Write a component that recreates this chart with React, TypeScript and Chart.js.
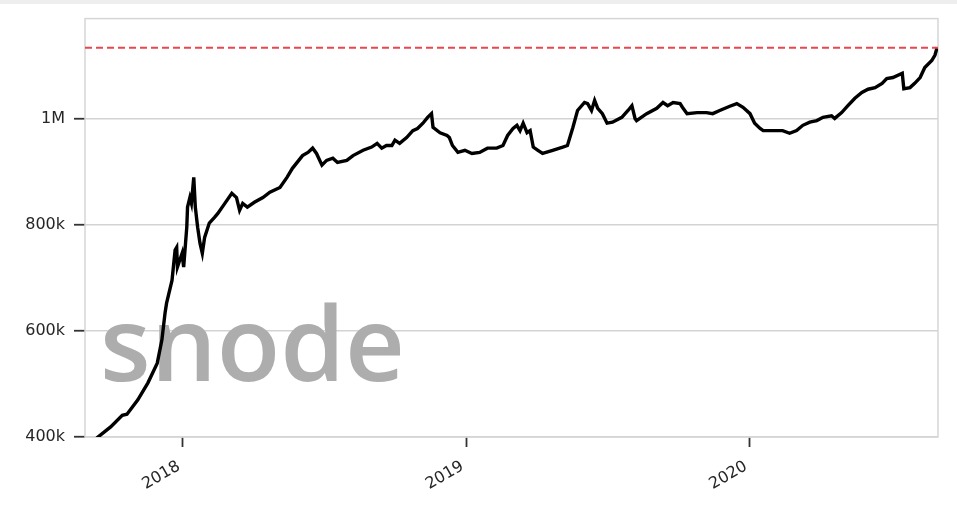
import React, { useEffect, useRef } from "react";
import { Chart, registerables } from "chart.js";

Chart.register(...registerables);

// ---- data ----
const dates: string[] = [
  "2017-09-12","2017-09-30","2017-10-15","2017-10-21","2017-11-04","2017-11-17","2017-11-29","2017-12-05",
  "2017-12-09","2017-12-11","2017-12-18","2017-12-22","2017-12-24","2017-12-25","2017-12-31","2018-01-02",
  "2018-01-06","2018-01-07","2018-01-10","2018-01-12","2018-01-15","2018-01-17","2018-01-20","2018-01-23",
  "2018-01-26","2018-01-29","2018-02-04","2018-02-11","2018-02-15","2018-02-24","2018-03-05","2018-03-11",
  "2018-03-15","2018-03-19","2018-03-25","2018-04-03","2018-04-14","2018-04-23","2018-05-06","2018-05-15",
  "2018-05-22","2018-06-04","2018-06-11","2018-06-17","2018-06-22","2018-06-29","2018-07-05","2018-07-13",
  "2018-07-19","2018-07-31","2018-08-08","2018-08-21","2018-09-01","2018-09-08","2018-09-14","2018-09-20",
  "2018-09-27","2018-10-01","2018-10-07","2018-10-16","2018-10-24","2018-10-30","2018-11-06","2018-11-12",
  "2018-11-17","2018-11-19","2018-11-28","2018-12-07","2018-12-10","2018-12-14","2018-12-21","2018-12-30",
  "2019-01-08","2019-01-18","2019-01-28","2019-02-09","2019-02-17","2019-02-23","2019-03-02","2019-03-07",
  "2019-03-11","2019-03-15","2019-03-20","2019-03-24","2019-03-28","2019-04-03","2019-04-09","2019-04-22",
  "2019-05-05","2019-05-11","2019-05-18","2019-05-24","2019-06-02","2019-06-06","2019-06-11","2019-06-15",
  "2019-06-19","2019-06-25","2019-07-01","2019-07-08","2019-07-20","2019-07-28","2019-08-02","2019-08-06",
  "2019-08-08","2019-08-21","2019-09-03","2019-09-11","2019-09-17","2019-09-24","2019-10-03","2019-10-06",
  "2019-10-12","2019-10-25","2019-11-06","2019-11-14","2019-11-23","2019-12-06","2019-12-15","2019-12-23",
  "2020-01-01","2020-01-07","2020-01-14","2020-01-18","2020-01-31","2020-02-12","2020-02-21","2020-03-01",
  "2020-03-09","2020-03-18","2020-03-27","2020-04-04","2020-04-15","2020-04-19","2020-04-28","2020-05-06",
  "2020-05-15","2020-05-24","2020-06-01","2020-06-10","2020-06-19","2020-06-25","2020-07-03","2020-07-15",
  "2020-07-17","2020-07-25","2020-07-31","2020-08-07","2020-08-13","2020-08-22","2020-08-26","2020-08-29",
];

// values in thousands
const valuesK: number[] = [
  398,419,441,443,470,502,539,583,
  633,652,695,752,757,720,746,720,
  795,833,851,840,889,833,795,765,
  746,776,803,814,821,840,859,851,
  827,840,833,842,851,861,870,889,
  906,930,936,944,934,912,921,925,
  917,921,930,940,946,953,944,949,
  949,959,953,964,977,981,991,1002,
  1009,983,973,968,964,949,936,940,
  934,936,944,944,949,968,981,987,
  977,991,973,977,946,940,934,940,
  946,949,983,1015,1030,1028,1015,1034,
  1019,1009,991,993,1002,1015,1024,1000,
  996,1009,1019,1030,1024,1030,1028,1021,
  1009,1011,1011,1009,1015,1023,1028,1021,
  1009,991,981,977,977,977,972,977,
  987,993,996,1002,1005,1000,1011,1024,
  1038,1049,1055,1058,1066,1075,1077,1085,
  1056,1058,1066,1077,1096,1109,1119,1134,
];

const athValue = 1133000;
const yTickValues: number[] = [400000, 600000, 800000, 1000000];
const yRange: number[] = [400000, 1188000];
const xTickDates: string[] = ["2018-01-01", "2019-01-01", "2020-01-01"];
const xTickLabels: string[] = ["2018", "2019", "2020"];
const xRange: string[] = ["2017-08-28", "2020-08-30"];
const watermarkText = "snode";

const ts = (d: string) => Date.parse(d + "T00:00:00Z");

export default function App() {
  const ref = useRef<HTMLCanvasElement | null>(null);

  useEffect(() => {
    document.body.style.margin = "0";
    const canvas = ref.current;
    if (!canvas) return;

    const linePoints = dates.map((d, i) => ({ x: ts(d), y: valuesK[i] * 1000 }));
    const athPoints = [
      { x: ts(xRange[0]), y: athValue },
      { x: ts(xRange[1]), y: athValue },
    ];

    const framePlugin = {
      id: "frameAndWatermark",
      beforeDatasetsDraw(chart: any) {
        const { ctx, chartArea } = chart;
        ctx.save();
        ctx.strokeStyle = "#d6d6d6";
        ctx.lineWidth = 1.5;
        ctx.strokeRect(chartArea.left, chartArea.top, chartArea.right - chartArea.left, chartArea.bottom - chartArea.top);
        ctx.font = '600 104px "Open Sans"';
        ctx.fillStyle = "#adadad";
        ctx.textBaseline = "alphabetic";
        ctx.textAlign = "left";
        ctx.fillText(watermarkText, chartArea.left + 15, chartArea.bottom - 56);
        ctx.restore();
      },
    };

    const tickFont = { family: "'DejaVu Sans', sans-serif", size: 16 };

    const chart = new Chart(canvas, {
      type: "line",
      data: {
        datasets: [
          {
            data: athPoints,
            borderColor: "#e9474d",
            borderWidth: 2,
            borderDash: [7, 4],
            pointRadius: 0,
            fill: false,
          },
          {
            data: linePoints,
            borderColor: "#000000",
            borderWidth: 3.4,
            pointRadius: 0,
            tension: 0,
            fill: false,
          },
        ],
      },
      options: {
        animation: false,
        responsive: false,
        layout: { padding: { top: 18, right: 19, left: 0, bottom: 0 } },
        plugins: { legend: { display: false }, tooltip: { enabled: false } },
        scales: {
          x: {
            type: "linear",
            min: ts(xRange[0]),
            max: ts(xRange[1]),
            afterBuildTicks: (s: any) => {
              s.ticks = xTickDates.map((d) => ({ value: ts(d) }));
            },
            afterFit: (s: any) => {
              s.height = 68;
            },
            grid: {
              display: true,
              drawOnChartArea: false,
              drawTicks: true,
              tickLength: 10,
              tickColor: "#333333",
              tickWidth: 1.8,
            },
            border: { display: false },
            ticks: {
              autoSkip: false,
              minRotation: 30,
              maxRotation: 30,
              padding: 10,
              labelOffset: -4,
              color: "#262626",
              font: tickFont,
              callback: (_v: any, i: number) => xTickLabels[i],
            },
          },
          y: {
            type: "linear",
            min: yRange[0],
            max: yRange[1],
            afterBuildTicks: (s: any) => {
              s.ticks = yTickValues.map((v) => ({ value: v }));
            },
            afterFit: (s: any) => {
              s.width = 85;
            },
            grid: {
              color: "#d3d3d3",
              lineWidth: 1.5,
              drawTicks: true,
              tickLength: 11,
              tickColor: "#333333",
              tickWidth: 1.8,
            },
            border: { display: false },
            ticks: {
              padding: 9,
              color: "#262626",
              font: tickFont,
              callback: (v: any) => {
                const n = Number(v);
                return n >= 1000000 ? n / 1000000 + "M" : n / 1000 + "k";
              },
            },
          },
        },
      },
      plugins: [framePlugin],
    } as any);

    return () => chart.destroy();
  }, []);

  return (
    <div style={{ position: "fixed", left: 0, top: 0, width: 957, height: 505, background: "#ffffff" }}>
      <div style={{ position: "absolute", left: 0, top: 0, width: 957, height: 4, background: "#eeeeee" }} />
      <canvas ref={ref} width={957} height={505} style={{ display: "block" }} />
    </div>
  );
}
